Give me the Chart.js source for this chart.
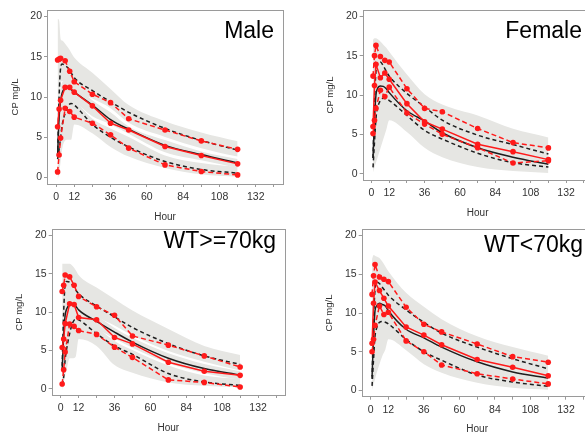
<!DOCTYPE html>
<html>
<head>
<meta charset="utf-8">
<title>VPC by covariate</title>
<script src="https://cdn.jsdelivr.net/npm/chart.js"></script>
<style>
  html, body { margin: 0; padding: 0; background: #fff; overflow: hidden; width: 585px; height: 434px; }
  canvas { position: absolute; background: #fff; }
</style>
</head>
<body>
<canvas id="c1" width="290" height="226" style="left:0;top:0"></canvas>
<canvas id="c2" width="310" height="226" style="left:290px;top:0"></canvas>
<canvas id="c3" width="290" height="215" style="left:0;top:221px"></canvas>
<canvas id="c4" width="310" height="215" style="left:290px;top:221px"></canvas>
<script>
// sampling times (h)
const obsTimes = [1, 2, 3, 6, 9, 12, 24, 36, 48, 72, 96, 120];
const predTimes = [1, 2, 3, 4, 6, 8, 10, 12, 24, 36, 48, 72, 96, 120];

const xTicks = [0, 12, 24, 36, 48, 60, 72, 84, 96, 108, 120, 132, 144];
const xTickLabels = [0, 12, 36, 60, 84, 108, 132];
const yTicks = [0, 5, 10, 15, 20];

// Male
const maleObs95 = [14.6, 14.7, 14.8, 14.5, 13.2, 11.9, 10.35, 9.3, 7.3, 5.9, 4.55, 3.5];
const maleObs50 = [6.3, 8.5, 9.6, 11.2, 11.2, 10.6, 8.9, 6.75, 5.9, 3.85, 2.73, 1.7];
const maleObs5 = [0.7, 2.8, 4.9, 8.6, 8.2, 7.5, 6.75, 5.3, 3.65, 1.57, 0.75, 0.33];
const malePred95 = [2.6, 10.0, 13.6, 14.1, 13.9, 13.6, 13.0, 12.4, 10.8, 9.4, 8.1, 6.1, 4.6, 3.4];
const malePred50 = [2.7, 7.5, 9.5, 10.5, 11.1, 11.2, 10.9, 10.6, 9.0, 7.2, 6.0, 4.0, 2.85, 1.8];
const malePred5 = [2.3, 3.5, 5.0, 6.5, 8.0, 8.9, 9.2, 9.0, 6.6, 5.0, 3.8, 2.0, 1.0, 0.55];
const maleBand95Hi = [19.7, 19.5, 17.2, 17.0, 16.6, 16.1, 15.5, 14.9, 13.0, 11.0, 9.0, 7.0, 5.6, 4.5];
const maleBand95Lo = [3.0, 9.0, 11.5, 12.0, 12.0, 11.8, 11.3, 10.8, 9.8, 8.6, 6.8, 5.05, 3.65, 2.6];
const maleBandMedHi = [5.0, 9.5, 11.0, 11.8, 12.2, 12.2, 12.0, 11.6, 9.6, 8.1, 6.35, 4.65, 3.25, 2.3];
const maleBandMedLo = [0.8, 4.5, 7.0, 8.5, 9.5, 9.8, 9.6, 9.4, 7.6, 6.6, 5.45, 3.15, 2.15, 1.2];
const maleBand5Hi = [3.0, 5.5, 7.2, 8.6, 9.8, 10.0, 9.8, 9.6, 7.3, 6.1, 5.05, 2.75, 1.8, 1.3];
const maleBand5Lo = [-0.3, 0.5, 2.0, 3.5, 4.6, 4.7, 4.7, 6.6, 5.5, 3.8, 2.6, 1.2, 0.4, 0.1];

// Female
const femaleObs95 = [12.4, 15.0, 16.3, 14.9, 14.4, 14.2, 10.8, 8.3, 7.87, 5.74, 3.95, 3.28];
const femaleObs50 = [6.0, 11.2, 13.9, 12.2, 12.8, 12.0, 8.9, 6.6, 5.66, 3.74, 2.8, 1.79];
const femaleObs5 = [5.1, 6.8, 8.3, 10.6, 9.8, 11.0, 7.7, 6.3, 5.0, 3.3, 1.36, 1.65];
const femalePred95 = [2.0, 9.0, 13.0, 14.0, 14.2, 13.7, 13.0, 12.4, 10.2, 8.5, 6.8, 4.9, 3.7, 2.5];
const femalePred50 = [2.0, 7.0, 10.0, 10.8, 11.15, 11.1, 10.8, 10.3, 8.0, 6.7, 5.2, 3.3, 2.1, 1.2];
const femalePred5 = [0.8, 4.0, 7.0, 8.3, 9.3, 9.6, 9.5, 9.3, 7.4, 5.5, 4.4, 2.6, 1.4, 0.85];
const femaleBand95Hi = [17.0, 17.2, 17.2, 17.1, 16.8, 16.4, 16.0, 15.5, 12.6, 10.1, 8.8, 7.4, 5.7, 4.6];
const femaleBand95Lo = [4.0, 10.0, 12.0, 12.5, 12.5, 12.2, 11.8, 11.2, 8.6, 7.0, 5.7, 4.0, 2.9, 2.0];
const femaleBandMedHi = [6.0, 11.0, 12.8, 13.0, 12.8, 12.6, 12.2, 11.8, 9.0, 7.4, 6.0, 4.3, 3.2, 2.3];
const femaleBandMedLo = [0.8, 3.0, 6.5, 8.0, 8.8, 8.8, 8.6, 8.5, 6.5, 5.0, 3.9, 2.2, 1.2, 0.6];
const femaleBand5Hi = [3.0, 6.0, 8.0, 8.8, 9.4, 9.5, 9.4, 9.2, 7.2, 5.6, 4.4, 2.6, 1.5, 0.9];
const femaleBand5Lo = [0.2, 0.8, 1.4, 2.0, 3.2, 4.4, 5.6, 6.8, 5.3, 3.3, 2.1, 0.85, 0.35, 0.1];

// WT>=70kg
const wtHiObs95 = [12.7, 13.5, 14.85, 14.6, 13.5, 12.05, 10.7, 9.6, 6.9, 5.7, 4.3, 2.85];
const wtHiObs50 = [5.4, 6.5, 8.5, 11.1, 11.0, 9.3, 9.0, 6.7, 5.86, 3.47, 2.3, 1.76];
const wtHiObs5 = [0.63, 2.5, 4.8, 8.45, 8.15, 7.6, 7.1, 5.44, 4.1, 1.17, 0.84, 0.25];
const wtHiPred95 = [3.0, 10.0, 13.6, 14.0, 13.9, 13.5, 12.9, 12.4, 10.8, 9.4, 8.0, 5.9, 4.3, 3.2];
const wtHiPred50 = [2.5, 7.0, 9.6, 10.4, 11.0, 11.1, 10.8, 10.3, 8.8, 7.4, 6.1, 4.0, 2.65, 1.8];
const wtHiPred5 = [0.5, 1.5, 3.8, 5.2, 7.2, 8.6, 9.1, 9.0, 7.2, 5.6, 4.5, 2.0, 0.9, 0.45];
const wtHiBand95Hi = [16.3, 16.3, 16.3, 16.3, 16.3, 16.0, 15.5, 14.85, 13.2, 11.7, 10.2, 7.8, 5.6, 4.4];
const wtHiBand95Lo = [4.0, 9.0, 11.5, 12.0, 12.0, 11.7, 11.3, 10.9, 9.4, 8.25, 6.95, 4.95, 3.55, 2.4];
const wtHiBandMedHi = [5.5, 10.0, 11.8, 12.2, 12.4, 12.3, 12.0, 11.5, 9.6, 7.95, 6.65, 4.65, 3.25, 2.3];
const wtHiBandMedLo = [0.5, 4.0, 7.0, 8.2, 9.2, 9.5, 9.3, 9.0, 7.8, 6.55, 5.35, 3.35, 2.05, 1.2];
const wtHiBand5Hi = [3.5, 5.0, 7.2, 8.4, 9.4, 9.8, 9.7, 9.3, 8.0, 6.25, 5.05, 3.05, 1.75, 1.3];
const wtHiBand5Lo = [-0.2, 0.8, 1.8, 2.6, 4.0, 4.0, 4.2, 6.5, 5.6, 3.1, 2.1, 0.84, 0.4, 0.2];

// WT<70kg
const wtLoObs95 = [12.4, 14.8, 16.25, 14.65, 14.35, 14.05, 10.75, 8.55, 7.56, 6.0, 4.37, 3.65];
const wtLoObs50 = [6.1, 11.25, 14.0, 12.9, 11.9, 10.9, 8.2, 7.15, 5.9, 4.0, 3.0, 1.9];
const wtLoObs5 = [5.0, 6.6, 8.4, 10.9, 9.8, 10.1, 6.4, 5.0, 3.3, 2.16, 1.48, 0.85];
const wtLoPred95 = [1.5, 9.0, 13.0, 14.0, 13.8, 13.3, 12.8, 12.3, 10.4, 8.8, 7.4, 5.6, 4.1, 2.8];
const wtLoPred50 = [1.8, 7.0, 10.3, 10.9, 11.25, 11.1, 10.9, 10.3, 7.9, 6.8, 5.6, 3.7, 2.4, 1.6];
const wtLoPred5 = [0.6, 4.0, 7.0, 8.0, 8.8, 8.9, 8.8, 8.6, 6.6, 5.0, 3.9, 2.0, 1.1, 0.55];
const wtLoBand95Hi = [17.0, 17.5, 17.4, 17.3, 17.1, 16.6, 16.0, 15.4, 12.6, 10.8, 9.2, 7.0, 5.6, 4.5];
const wtLoBand95Lo = [3.0, 10.0, 12.0, 12.5, 12.4, 12.0, 11.6, 11.2, 8.9, 7.2, 6.0, 4.3, 3.0, 2.0];
const wtLoBandMedHi = [5.5, 11.0, 12.8, 13.0, 12.8, 12.6, 12.2, 11.8, 9.2, 7.6, 6.3, 4.5, 3.2, 2.3];
const wtLoBandMedLo = [0.8, 3.0, 6.8, 8.2, 8.8, 8.8, 8.6, 8.4, 6.5, 5.2, 4.2, 2.6, 1.5, 0.8];
const wtLoBand5Hi = [3.0, 6.0, 8.0, 8.8, 9.4, 9.5, 9.4, 9.2, 7.3, 5.6, 4.5, 2.8, 1.7, 1.0];
const wtLoBand5Lo = [0.1, 0.8, 1.5, 2.2, 3.4, 4.5, 5.3, 6.6, 5.2, 3.4, 2.3, 1.0, 0.35, 0.1];

const RED = '#ff1a1a';
const BLACK = '#1e1e1e';
const BAND = '#e6e6e3';

Chart.defaults.font.family = '"Liberation Sans", Arial, sans-serif';
Chart.defaults.color = '#333';

function pts(times, vals) {
    return times.map((t, i) => ({ x: t, y: vals[i] }));
}

function bandPair(lo, hi) {
    return [
        { data: pts(predTimes, lo), borderWidth: 0, pointRadius: 0, fill: false, order: 10, cubicInterpolationMode: 'monotone' },
        { data: pts(predTimes, hi), borderWidth: 0, pointRadius: 0, fill: '-1', backgroundColor: BAND, order: 10, cubicInterpolationMode: 'monotone' }
    ];
}

function predLine(vals, dashed) {
    return {
        data: pts(predTimes, vals), borderColor: BLACK, borderWidth: 1.5,
        borderDash: dashed ? [4, 3] : [], pointRadius: 0, fill: false, order: 5,
        cubicInterpolationMode: 'monotone'
    };
}

function obsLine(vals, dashed) {
    return {
        data: pts(obsTimes, vals), borderColor: RED, backgroundColor: RED, borderWidth: 1.5,
        borderDash: dashed ? [5, 3] : [], pointRadius: 2.8, pointBorderWidth: 0,
        pointBackgroundColor: RED, fill: false, order: 1, tension: 0
    };
}

// frame round the plot area and the big panel label
const panelDeco = {
    id: 'panelDeco',
    afterDraw(chart, args, opts) {
        const { ctx, chartArea: a } = chart;
        ctx.save();
        ctx.strokeStyle = '#9a9a9a';
        ctx.lineWidth = 1;
        ctx.strokeRect(Math.round(a.left) + 0.5, Math.round(a.top) + 0.5,
            Math.round(a.right - a.left), Math.round(a.bottom - a.top));
        ctx.fillStyle = '#000';
        ctx.font = '23px "Liberation Sans", Arial, sans-serif';
        ctx.textAlign = 'right';
        ctx.textBaseline = 'alphabetic';
        ctx.fillText(opts.text, opts.x, opts.y);
        ctx.restore();
    }
};

function makePanel(canvasId, title, titlePos, pad, obs, pred, bands) {
    const ctx = document.getElementById(canvasId).getContext('2d');
    const datasets = [
        obsLine(obs[1], false), obsLine(obs[0], true), obsLine(obs[2], true),
        predLine(pred[1], false), predLine(pred[0], true), predLine(pred[2], true),
        ...bandPair(bands[1], bands[0]), ...bandPair(bands[3], bands[2]), ...bandPair(bands[5], bands[4])
    ];
    new Chart(ctx, {
        type: 'line',
        data: { datasets: datasets },
        plugins: [panelDeco],
        options: {
            responsive: false,
            animation: false,
            layout: { padding: pad },
            plugins: {
                legend: { display: false },
                tooltip: { enabled: false },
                panelDeco: { text: title, x: titlePos[0], y: titlePos[1] }
            },
            scales: {
                x: {
                    type: 'linear', min: -6, max: 150,
                    afterBuildTicks: axis => { axis.ticks = xTicks.map(v => ({ value: v })); },
                    afterFit: axis => { axis.height = 39; },
                    ticks: {
                        autoSkip: false, maxRotation: 0, padding: 4,
                        font: { size: 10.5 }, color: '#333',
                        callback: v => xTickLabels.includes(v) ? String(v) : ''
                    },
                    grid: { drawOnChartArea: false, tickLength: 3, color: '#999' },
                    border: { display: false },
                    title: { display: true, text: 'Hour', font: { size: 10 }, color: '#333', padding: { top: 0, bottom: 0 } }
                },
                y: {
                    type: 'linear', min: -0.8, max: 20.8,
                    afterBuildTicks: axis => { axis.ticks = yTicks.map(v => ({ value: v })); },
                    afterFit: axis => { axis.width = 42; },
                    ticks: { padding: 2, font: { size: 10.5 }, color: '#333' },
                    grid: { drawOnChartArea: false, tickLength: 3, color: '#999' },
                    border: { display: false },
                    title: { display: true, text: 'CP mg/L', font: { size: 9.5 }, color: '#333', padding: { top: 4.3, bottom: 0 } }
                }
            }
        }
    });
}

makePanel('c1', 'Male', [274, 38], { left: 5, top: 10, right: 7, bottom: 3 },
    [maleObs95, maleObs50, maleObs5], [malePred95, malePred50, malePred5],
    [maleBand95Hi, maleBand95Lo, maleBandMedHi, maleBandMedLo, maleBand5Hi, maleBand5Lo]);

makePanel('c2', 'Female', [292, 38], { left: 30.7, top: 10, right: 7.4, bottom: 7 },
    [femaleObs95, femaleObs50, femaleObs5], [femalePred95, femalePred50, femalePred5],
    [femaleBand95Hi, femaleBand95Lo, femaleBandMedHi, femaleBandMedLo, femaleBand5Hi, femaleBand5Lo]);

makePanel('c3', 'WT>=70kg', [276, 27], { left: 9.7, top: 3, right: 5, bottom: 2 },
    [wtHiObs95, wtHiObs50, wtHiObs5], [wtHiPred95, wtHiPred50, wtHiPred5],
    [wtHiBand95Hi, wtHiBand95Lo, wtHiBandMedHi, wtHiBandMedLo, wtHiBand5Hi, wtHiBand5Lo]);

makePanel('c4', 'WT<70kg', [293, 31], { left: 29.7, top: 6, right: 7.4, bottom: 0.3 },
    [wtLoObs95, wtLoObs50, wtLoObs5], [wtLoPred95, wtLoPred50, wtLoPred5],
    [wtLoBand95Hi, wtLoBand95Lo, wtLoBandMedHi, wtLoBandMedLo, wtLoBand5Hi, wtLoBand5Lo]);
</script>
</body>
</html>
